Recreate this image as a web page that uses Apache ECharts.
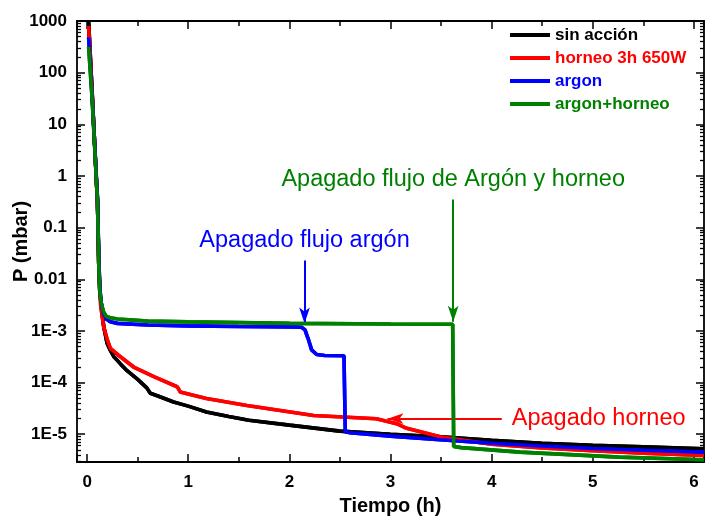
<!DOCTYPE html>
<html>
<head>
<meta charset="utf-8">
<script src="https://cdn.jsdelivr.net/npm/echarts@6/dist/echarts.min.js"></script>
<style>
  html, body { margin: 0; padding: 0; background: #fff; }
  #wrap { position: relative; width: 709px; height: 517px; }
  #frame, #chart { position: absolute; left: 0; top: 0; width: 709px; height: 517px; }
</style>
</head>
<body>
<div id="wrap">
  <div id="frame"></div>
  <div id="chart"></div>
</div>
<script>
// Pressure (mbar) versus pumping time (h) for four chamber conditions.
const seriesNames = ['sin acción', 'horneo 3h 650W', 'argon', 'argon+horneo'];
const seriesColors = ['#000000', '#ff0000', '#0000ff', '#008000'];

const tBlack = [0.015, 0.05, 0.075, 0.095, 0.102, 0.108, 0.115, 0.125, 0.14, 0.165, 0.197, 0.23, 0.263, 0.33, 0.395, 0.5, 0.59, 0.6, 0.625, 0.7, 0.855, 1.0, 1.18, 1.4, 1.6, 2.0, 2.5, 3.0, 3.5, 4.0, 4.5, 5.0, 5.5, 6.1];
const pBlack = [1000, 40, 4, 0.6, 0.35, 0.1, 0.02, 0.006, 0.003, 0.0012, 5.8e-4, 4.2e-4, 3.2e-4, 2.3e-4, 1.7e-4, 1.15e-4, 7.9e-5, 7.3e-5, 6.2e-5, 5.5e-5, 4.2e-5, 3.5e-5, 2.7e-5, 2.2e-5, 1.87e-5, 1.5e-5, 1.15e-5, 1.0e-5, 8.9e-6, 7.6e-6, 6.7e-6, 6.1e-6, 5.7e-6, 5.25e-6];

const tRed = [0.015, 0.05, 0.075, 0.095, 0.102, 0.108, 0.115, 0.125, 0.135, 0.164, 0.2, 0.23, 0.3, 0.46, 0.66, 0.89, 0.905, 0.92, 1.18, 1.58, 2.24, 2.86, 3.06, 3.16, 3.49, 4.0, 4.5, 5.0, 5.5, 6.1];
const pRed = [800, 40, 4, 0.6, 0.35, 0.1, 0.02, 0.007, 0.003, 0.0012, 6.7e-4, 4.6e-4, 3.5e-4, 2.0e-4, 1.3e-4, 8.3e-5, 7.5e-5, 6.6e-5, 4.9e-5, 3.6e-5, 2.3e-5, 2.0e-5, 1.6e-5, 1.3e-5, 8.9e-6, 6.4e-6, 5.4e-6, 4.8e-6, 4.3e-6, 3.9e-6];

const tBlue = [0.015, 0.05, 0.075, 0.095, 0.102, 0.108, 0.117, 0.128, 0.14, 0.16, 0.19, 0.23, 0.3, 0.6, 1.0, 1.5, 2.04, 2.12, 2.155, 2.175, 2.19, 2.22, 2.27, 2.35, 2.54, 2.553, 2.6, 3.0, 3.49, 4.0, 4.5, 5.0, 5.5, 6.1];
const pBlue = [480, 35, 4, 0.7, 0.4, 0.12, 0.02, 0.006, 0.0034, 0.0022, 0.0017, 0.0015, 0.0014, 0.0013, 0.00125, 0.00122, 0.0012, 0.00118, 0.00105, 8e-4, 6.7e-4, 4.3e-4, 3.5e-4, 3.35e-4, 3.3e-4, 1.12e-5, 1.07e-5, 9.2e-6, 7.8e-6, 6.7e-6, 5.9e-6, 5.3e-6, 4.9e-6, 4.5e-6];

const tGreen = [0.015, 0.05, 0.075, 0.095, 0.102, 0.108, 0.115, 0.125, 0.14, 0.16, 0.19, 0.23, 0.3, 0.6, 1.0, 2.0, 3.0, 3.615, 3.625, 3.7, 4.28, 5.26, 6.1];
const pGreen = [316, 30, 3.5, 0.6, 0.35, 0.1, 0.02, 0.006, 0.0035, 0.0024, 0.0019, 0.0018, 0.0017, 0.00155, 0.0015, 0.0014, 0.00136, 0.00135, 5.8e-6, 5.5e-6, 4.5e-6, 3.6e-6, 3.2e-6];

// Decade labels from 1E-5 up to 1000
const yTickLabels = ['1E-5', '1E-4', '1E-3', '0.01', '0.1', '1', '10', '100', '1000'];
const yLowestExp = -5;
const xTickLabels = ['0', '1', '2', '3', '4', '5', '6'];

// Annotation arrows: [start, end] in (time, pressure)
const arrowArgon = [[2.15, 0.023], [2.15, 0.0014]];
const arrowArgonHorneo = [[3.62, 0.35], [3.62, 0.0015]];
const arrowHorneo = [[4.10, 2.0e-5], [2.97, 2.0e-5]];

const xMin = -0.1, xMax = 6.1;
const yMin = 2.9e-6, yMax = 1000;

const FONT = 'Liberation Sans, Arial, sans-serif';

function pairs(t, p) { return t.map((v, i) => [v, p[i]]); }
const lineData = [pairs(tBlack, pBlack), pairs(tRed, pRed), pairs(tBlue, pBlue), pairs(tGreen, pGreen)];

function yLabel(v) {
  const e = Math.log10(v);
  const r = Math.round(e);
  if (Math.abs(e - r) > 1e-6) return '';
  const s = yTickLabels[r - yLowestExp];
  return s === undefined ? '' : s;
}
function xLabel(v) {
  const r = Math.round(v);
  if (Math.abs(v - r) > 1e-6) return '';
  const s = xTickLabels[r];
  return s === undefined ? '' : s;
}

function gridBox() {
  return { left: 77, right: 5, top: 21, bottom: 55, containLabel: false, outerBoundsMode: 'none' };
}
function spine() { return { show: true, onZero: false, lineStyle: { color: '#000', width: 1.8 } }; }
function majorTick() { return { show: true, inside: true, length: 8, lineStyle: { color: '#000', width: 1.5 } }; }
// log axis: 9 linear parts per decade give the 2..9 minor marks
function yMinorTick() { return { show: true, splitNumber: 9, length: 4, lineStyle: { color: '#000', width: 1.3 } }; }
function xMinorTick() { return { show: true, splitNumber: 2, length: 5, lineStyle: { color: '#000', width: 1.5 } }; }

function plainLines() {
  return seriesNames.map((name, i) => ({
    name: name, type: 'line', data: lineData[i], showSymbol: false,
    lineStyle: { width: 3.6, color: seriesColors[i] }, color: seriesColors[i]
  }));
}

// ---- frame layer: the four spines with major and minor ticks ----
const frame = echarts.init(document.getElementById('frame'), null, { renderer: 'canvas' });
frame.setOption({
  animation: false,
  grid: gridBox(),
  xAxis: [
    { type: 'value', min: xMin, max: xMax, splitNumber: 6, axisLine: spine(), axisTick: majorTick(), minorTick: xMinorTick(), axisLabel: { show: false }, splitLine: { show: false } },
    { type: 'value', position: 'top', min: xMin, max: xMax, splitNumber: 6, axisLine: spine(), axisTick: majorTick(), minorTick: xMinorTick(), axisLabel: { show: false }, splitLine: { show: false } }
  ],
  yAxis: [
    { type: 'log', logBase: 10, min: yMin, max: yMax, splitNumber: 10, axisLine: spine(), axisTick: majorTick(), minorTick: yMinorTick(), axisLabel: { show: false }, splitLine: { show: false } },
    { type: 'log', logBase: 10, position: 'right', min: yMin, max: yMax, splitNumber: 10, axisLine: spine(), axisTick: majorTick(), minorTick: yMinorTick(), axisLabel: { show: false }, splitLine: { show: false } }
  ],
  series: plainLines()
});

// ---- data layer: curves, legend, tick labels, axis titles and annotations ----
function arrowMark(coords, text, color, dist) {
  return {
    silent: true,
    symbol: ['none', 'arrow'],
    symbolSize: [8, 16],
    lineStyle: { color: color, width: 2, type: 'solid' },
    label: {
      show: true, position: 'start', formatter: text, color: color,
      fontSize: 23.5, fontFamily: FONT, distance: dist
    },
    emphasis: { disabled: true },
    data: [[{ coord: coords[0] }, { coord: coords[1] }]]
  };
}

const marks = [
  null,
  arrowMark(arrowHorneo, 'Apagado horneo', '#ff0000', 10),
  arrowMark(arrowArgon, 'Apagado flujo argón', '#0000ff', 8),
  arrowMark(arrowArgonHorneo, 'Apagado flujo de Argón y horneo', '#008000', 8)
];

const lineSeries = seriesNames.map((name, i) => {
  const s = {
    name: name,
    type: 'line',
    data: lineData[i],
    showSymbol: false,
    symbol: 'none',
    color: seriesColors[i],
    lineStyle: { width: 3.6, color: seriesColors[i] },
    z: 3 + i,
    silent: true,
    animation: false
  };
  if (marks[i]) s.markLine = marks[i];
  return s;
});

function nameStyle() { return { fontSize: 20, fontWeight: 'bold', color: '#000', fontFamily: FONT }; }
function labelStyle(fmt, margin) {
  return { show: true, formatter: fmt, fontSize: 17, fontWeight: 'bold', color: '#000', fontFamily: FONT, margin: margin };
}

const chart = echarts.init(document.getElementById('chart'), null, { renderer: 'canvas' });
chart.setOption({
  animation: false,
  grid: gridBox(),
  legend: {
    orient: 'vertical',
    left: 510, top: 26,
    padding: 0,
    itemWidth: 40, itemHeight: 4, itemGap: 5,
    icon: 'rect',
    selectedMode: false,
    textStyle: { fontSize: 17, fontWeight: 'bold', fontFamily: FONT, lineHeight: 18 },
    data: seriesNames.map((n, i) => ({ name: n, textStyle: { color: seriesColors[i] } }))
  },
  xAxis: {
    type: 'value', min: xMin, max: xMax, splitNumber: 6,
    name: 'Tiempo (h)', nameLocation: 'middle', nameGap: 34, nameMoveOverlap: false,
    nameTextStyle: nameStyle(),
    axisLine: { show: false, onZero: false },
    axisTick: { show: false },
    axisLabel: labelStyle(xLabel, 12),
    splitLine: { show: false }
  },
  yAxis: {
    type: 'log', logBase: 10, min: yMin, max: yMax, splitNumber: 10,
    name: 'P (mbar)', nameLocation: 'middle', nameGap: 46, nameMoveOverlap: false,
    nameTextStyle: nameStyle(),
    axisLine: { show: false, onZero: false },
    axisTick: { show: false },
    axisLabel: labelStyle(yLabel, 10),
    splitLine: { show: false }
  },
  series: lineSeries
});
</script>
</body>
</html>
